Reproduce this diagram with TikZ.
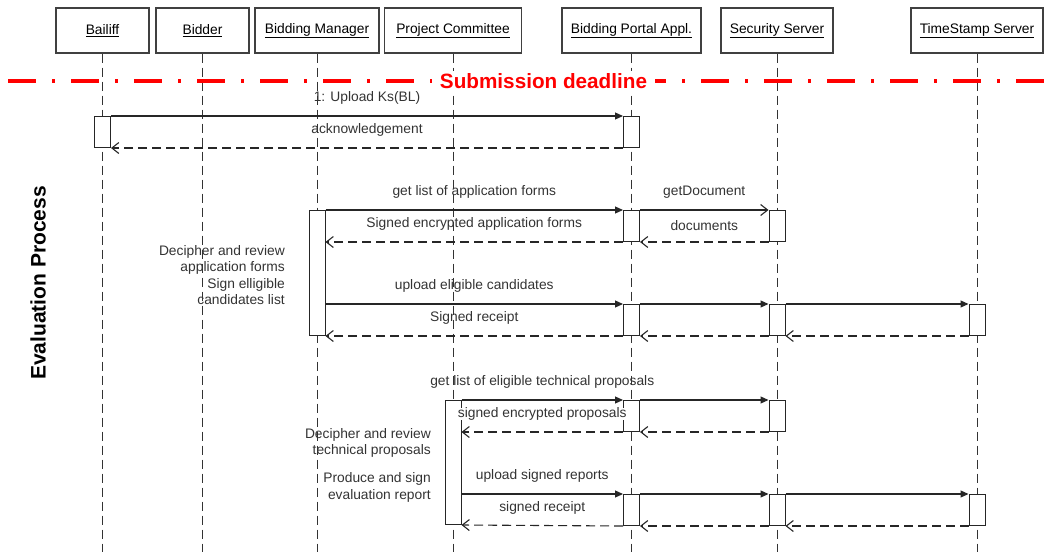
\documentclass[tikz,border=0pt]{standalone}
\usepackage{fontspec}
\setmainfont{Liberation Sans}
\usepackage{tikz}
\usetikzlibrary{arrows.meta}
\tikzstyle{actor} = [rectangle, draw=black!75, line width=1.3pt, fill=white,
    minimum height=45pt, inner sep=0pt, font=\fontsize{13.8}{15}\selectfont]
\tikzstyle{lifeline} = [draw=black!80, line width=0.9pt, dash pattern=on 9pt off 5pt]
\tikzstyle{activation} = [rectangle, draw=black!85, line width=1pt, fill=white,
    minimum width=16pt, minimum height=31pt, inner sep=0pt, anchor=north]
\tikzstyle{call} = [draw=black!85, line width=1.1pt, -{Triangle[length=8pt,width=7pt]}]
\tikzstyle{callopen} = [draw=black!85, line width=1.1pt, -{Straight Barb[length=7pt,width=11pt]}]
\tikzstyle{reply} = [draw=black!85, line width=1.1pt, dash pattern=on 9pt off 5pt,
    -{Straight Barb[length=7pt,width=11pt]}]
\tikzstyle{msg} = [midway, above=11pt, inner sep=0pt, text=black!80,
    font=\fontsize{13.8}{15}\selectfont]
\tikzstyle{note} = [anchor=east, align=right, inner sep=0pt, text=black!80,
    font=\fontsize{13.8}{16.6}\selectfont]

\begin{document}
\begin{tikzpicture}[x=1pt, y=-1pt]
    \useasboundingbox (0,0) rectangle (1055,552);
    % Place actors
    \node[actor, minimum width=93pt]  (bailiff)  at (102.5,30.5) {\underline{Bailiff}};
    \node[actor, minimum width=93pt]  (bidder)   at (202.5,30.5) {\underline{Bidder}};
    \node[actor, minimum width=124pt] (manager)  at (317,30.5)   {\underline{Bidding Manager}};
    \node[actor, minimum width=137pt] (committee) at (453,30.5)  {\underline{Project Committee}};
    \node[actor, minimum width=139pt] (portal)   at (631.5,30.5) {\underline{Bidding Portal Appl.}};
    \node[actor, minimum width=112pt] (security) at (777,30.5)   {\underline{Security Server}};
    \node[actor, minimum width=132pt] (timestamp) at (977,30.5)  {\underline{TimeStamp Server}};
    \coordinate (bottom) at (0,552);

    % Lifelines
    \foreach \who in {bailiff, bidder, manager, committee, portal, security, timestamp}
        \path[lifeline] (\who.south) -- (\who |- bottom);

    % Submission deadline
    \coordinate (dlLeft) at (0,81);
    \coordinate (dlRight) at (1055,81);
    \draw[red, line width=4pt, dash pattern=on 28pt off 16pt on 3pt off 16pt, dash phase=55pt]
        (dlLeft) -- (dlRight);
    \node[fill=white, text=red, inner xsep=8pt, inner ysep=2pt,
        font=\bfseries\fontsize{20.7}{24}\selectfont] (deadline) at (543.5,81) {Submission deadline};

    \node[rotate=90, font=\bfseries\fontsize{21}{24}\selectfont] (evalproc) at (38,283) {Evaluation Process};

    % Activations
    \node[activation] (bailAct) at (bailiff |- 0,116) {};
    \node[activation] (portA) at (portal |- 0,116) {};
    \node[activation, minimum height=125pt] (manAct) at (manager |- 0,210) {};
    \node[activation] (portB) at (portal |- 0,210) {};
    \node[activation] (secB) at (security |- 0,210) {};
    \node[activation] (portC) at (portal |- 0,304) {};
    \node[activation] (secC) at (security |- 0,304) {};
    \node[activation] (tsC) at (timestamp |- 0,304) {};
    \node[activation, minimum height=124pt] (comAct) at (committee |- 0,400) {};
    \node[activation] (portD) at (portal |- 0,400) {};
    \node[activation] (secD) at (security |- 0,400) {};
    \node[activation] (portE) at (portal |- 0,494) {};
    \node[activation] (secE) at (security |- 0,494) {};
    \node[activation] (tsE) at (timestamp |- 0,494) {};

    % Notes
    \node[note] (noteForms) at (285,275) {Decipher and review\\application forms\\Sign elligible\\candidates list};
    \node[note] (noteTech) at (431,443) {Decipher and review\\technical proposals};
    \node[note] (noteReport) at (431,487.5) {Produce and sign\\evaluation report};

    % Draw messages
    \path[call] (bailAct.north east) -- node[msg] {1: Upload Ks(BL)} (portA.north west);
    \path[reply] (portA.south west) -- node[msg] {acknowledgement} (bailAct.south east);

    \path[call] (manAct.north east) -- node[msg] {get list of application forms} (portB.north west);
    \path[callopen] (portB.north east) -- node[msg] {getDocument} (secB.north west);
    \path[reply] (secB.south west) -- node[msg] {documents} (portB.south east);
    \path[reply] (portB.south west) -- node[msg] {Signed encrypted application forms} (manAct.east |- portB.south);

    \path[call] (manAct.east |- portC.north) -- node[msg] {upload eligible candidates} (portC.north west);
    \path[call] (portC.north east) -- (secC.north west);
    \path[call] (secC.north east) -- (tsC.north west);
    \path[reply] (tsC.south west) -- (secC.south east);
    \path[reply] (secC.south west) -- (portC.south east);
    \path[reply] (portC.south west) -- node[msg] {Signed receipt} (manAct.south east);

    \path[call] (comAct.north east) -- node[msg] {get list of eligible technical proposals} (portD.north west);
    \path[call] (portD.north east) -- (secD.north west);
    \path[reply] (secD.south west) -- (portD.south east);
    \path[reply] (portD.south west) -- node[msg, fill=white] {signed encrypted proposals} (comAct.east |- portD.south);

    \path[call] (comAct.east |- portE.north) -- node[msg] {upload signed reports} (portE.north west);
    \path[call] (portE.north east) -- (secE.north west);
    \path[call] (secE.north east) -- (tsE.north west);
    \path[reply] (tsE.south west) -- (secE.south east);
    \path[reply] (secE.south west) -- (portE.south east);
    \path[reply] (portE.south west) -- node[msg] {signed receipt} (comAct.south east);
\end{tikzpicture}
\end{document}
